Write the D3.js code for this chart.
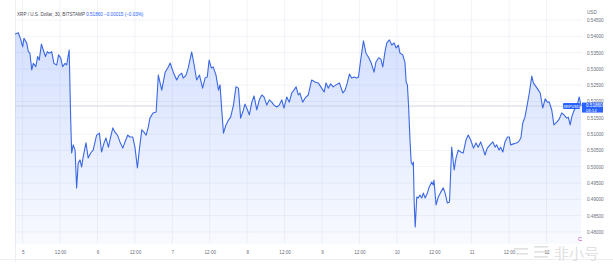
<!DOCTYPE html>
<html>
<head>
<meta charset="utf-8">
<script src="https://cdn.jsdelivr.net/npm/d3@7"></script>
<style>
  html, body { margin: 0; padding: 0; background: #fff; }
  svg { display: block; font-family: "Liberation Sans", Arial, sans-serif; }
</style>
</head>
<body>
<svg id="chart" width="613" height="272"></svg>
<script>
// hours after day 5 00:00, and the close price at that time (30 min XRP/USD)
var hours = [
    -2.5, -1.4, -0.6, 0, 0.4, 1.3, 1.8, 2.3, 2.9, 3.4, 4.2, 4.8, 5.3, 6.0, 6.6, 7.3, 7.9, 8.5, 9.3, 10.0,
    10.9, 11.5, 12.2, 12.8, 13.6, 14.1, 14.9, 15.4, 15.7, 16.2, 16.8, 17.3, 17.8, 18.4, 18.9, 19.4, 20.3, 21.0, 21.8, 22.6,
    23.7, 24.6, 25.3, 26.1, 26.7, 27.5, 28.0, 28.9, 29.6, 30.4, 31.2, 32.1, 32.8, 33.7, 34.4, 35.3, 36.0, 36.8, 37.4, 38.2,
    38.9, 39.6, 40.3, 40.8, 41.8, 42.8, 43.5, 44.6, 45.7, 46.7, 47.3, 48.3, 49.4, 50.2, 51.0, 51.5, 52.4, 53.1, 54.2, 55.0,
    55.8, 56.7, 57.7, 58.5, 59.2, 59.8, 60.5, 61.1, 62.0, 62.8, 63.3, 63.8, 64.4, 65.2, 66.0, 66.7, 67.6, 68.4, 69.2, 69.9,
    70.8, 71.3, 72.1, 72.7, 73.5, 74.2, 75.1, 75.9, 76.7, 77.4, 78.3, 79.1, 79.9, 80.6, 81.5, 82.3, 83.1, 83.8, 84.7, 85.5,
    86.3, 87.0, 87.7, 88.4, 88.9, 89.8, 90.6, 91.6, 92.7, 93.8, 94.8, 95.9, 96.7, 97.3, 98.0, 98.8, 99.6, 100.5, 101.6, 102.7,
    103.4, 104.1, 104.8, 105.5, 106.3, 107.1, 107.7, 108.4, 109.3, 110.1, 111.0, 111.8, 112.7, 113.3, 114.2, 114.9, 115.5, 116.2, 116.8, 117.6,
    118.4, 119.1, 119.8, 120.5, 121.0, 121.9, 122.6, 123.0, 123.4, 123.8, 124.2, 124.6, 125.1, 125.3, 125.6, 125.9, 126.4, 126.9, 127.4, 128.0,
    128.5, 129.1, 129.8, 130.4, 131.2, 131.7, 131.9, 132.6, 133.3, 134.1, 134.9, 135.5, 136.2, 136.9, 137.6, 138.4, 139.0, 139.7, 140.5, 141.3,
    142.2, 142.9, 143.7, 144.6, 145.4, 146.1, 146.9, 147.6, 148.3, 149.0, 149.9, 150.8, 151.5, 152.0, 152.8, 153.3, 154.0, 154.7, 155.5, 156.1,
    156.5, 157.4, 158.3, 159.0, 159.8, 160.4, 161.1, 161.7, 162.5, 163.3, 163.8, 164.7, 165.4, 166.0, 166.8, 167.6, 168.3, 168.9, 169.7, 170.4,
    171.3, 172.1, 172.9, 173.6, 174.5, 175.0, 175.6, 176.1, 176.9, 177.7, 178.5, 179.1
];
var prices = [
    0.5407, 0.5411, 0.5389, 0.5368, 0.5394, 0.5379, 0.5353, 0.5349, 0.5297, 0.5317, 0.5307, 0.5338, 0.5327, 0.5376, 0.5358, 0.5338, 0.5353, 0.5348, 0.5353, 0.5317,
    0.5312, 0.5343, 0.5333, 0.5307, 0.5317, 0.5312, 0.5358, 0.5143, 0.5042, 0.5067, 0.5051, 0.4935, 0.5011, 0.5021, 0.4999, 0.5030, 0.5073, 0.5027, 0.5042, 0.5051,
    0.5097, 0.5103, 0.5045, 0.5073, 0.5088, 0.5060, 0.5082, 0.5119, 0.5106, 0.5097, 0.5076, 0.5057, 0.5076, 0.5097, 0.5091, 0.5091, 0.5060, 0.4996, 0.5051, 0.5113,
    0.5106, 0.5097, 0.5122, 0.5149, 0.5165, 0.5168, 0.5281, 0.5235, 0.5290, 0.5306, 0.5318, 0.5290, 0.5266, 0.5281, 0.5287, 0.5272, 0.5281, 0.5303, 0.5352, 0.5312,
    0.5266, 0.5281, 0.5241, 0.5272, 0.5275, 0.5327, 0.5303, 0.5306, 0.5281, 0.5235, 0.5251, 0.5180, 0.5103, 0.5128, 0.5143, 0.5152, 0.5189, 0.5245, 0.5241, 0.5149,
    0.5174, 0.5192, 0.5174, 0.5159, 0.5198, 0.5217, 0.5174, 0.5205, 0.5220, 0.5214, 0.5189, 0.5205, 0.5198, 0.5189, 0.5183, 0.5189, 0.5205, 0.5180, 0.5214, 0.5198,
    0.5226, 0.5235, 0.5245, 0.5220, 0.5226, 0.5198, 0.5211, 0.5220, 0.5266, 0.5260, 0.5257, 0.5241, 0.5229, 0.5257, 0.5241, 0.5254, 0.5245, 0.5251, 0.5257, 0.5226,
    0.5235, 0.5257, 0.5284, 0.5272, 0.5275, 0.5272, 0.5275, 0.5327, 0.5386, 0.5349, 0.5334, 0.5318, 0.5290, 0.5321, 0.5334, 0.5330, 0.5306, 0.5352, 0.5380, 0.5389,
    0.5373, 0.5380, 0.5364, 0.5373, 0.5349, 0.5343, 0.5321, 0.5260, 0.5251, 0.5180, 0.5088, 0.5014, 0.5005, 0.5014, 0.4883, 0.4815, 0.4907, 0.4904, 0.4913, 0.4904,
    0.4919, 0.4904, 0.4919, 0.4938, 0.4953, 0.4944, 0.4959, 0.4883, 0.4907, 0.4922, 0.4935, 0.4919, 0.4889, 0.4892, 0.5060, 0.4990, 0.5027, 0.5051, 0.5045, 0.5042,
    0.5082, 0.5097, 0.5082, 0.5057, 0.5073, 0.5060, 0.5076, 0.5057, 0.5036, 0.5057, 0.5067, 0.5076, 0.5060, 0.5067, 0.5051, 0.5060, 0.5045, 0.5076, 0.5091, 0.5091,
    0.5067, 0.5070, 0.5073, 0.5076, 0.5088, 0.5134, 0.5152, 0.5183, 0.5226, 0.5278, 0.5257, 0.5245, 0.5235, 0.5226, 0.5180, 0.5208, 0.5198, 0.5198, 0.5174, 0.5128,
    0.5137, 0.5146, 0.5165, 0.5159, 0.5149, 0.5152, 0.5128, 0.5152, 0.5174, 0.5183, 0.5214, 0.5186
];
var priceTicks = [0.545, 0.540, 0.535, 0.530, 0.525, 0.520, 0.515, 0.510, 0.505, 0.500, 0.495, 0.490, 0.485, 0.480];
var titleText = "XRP / U.S. Dollar, 30, BITSTAMP";
var quoteText = "0.51860  \u22120.00015 (\u22120.03%)";
var lastPriceText = "0.51860";
var countdownText = "03:14";
var symbolText = "XRPUSD";

// note: "top" is taken by window.top, so the pane edges get their own names
var W = 613, H = 272,
    paneLeft = 15, paneRight = 582, paneTop = 0, paneBottom = 244,
    lineColor = "#3b68e2", textColor = "#6a6d78";

var base = new Date(2023, 5, 5, 0, 0, 0);
var toDate = function(h) { return new Date(base.getTime() + h * 3600e3); };
var data = hours.map(function(h, i) { return {date: toDate(h), price: prices[i]}; });

var x = d3.scaleTime()
    .domain([toDate(-2.47), toDate(179.4)])
    .range([paneLeft, paneRight]);
var y = d3.scaleLinear()
    .domain([0.48, 0.545])
    .range([231.9, 20]);

var svg = d3.select("#chart");
var defs = svg.append("defs");

var grad = defs.append("linearGradient")
    .attr("id", "fillGrad")
    .attr("gradientUnits", "userSpaceOnUse")
    .attr("x1", 0).attr("x2", 0)
    .attr("y1", y(d3.max(prices))).attr("y2", paneBottom);
grad.append("stop").attr("offset", "0%").attr("stop-color", "#2962ff").attr("stop-opacity", 0.2);
grad.append("stop").attr("offset", "100%").attr("stop-color", "#2962ff").attr("stop-opacity", 0.03);

defs.append("clipPath").attr("id", "paneClip")
    .append("rect")
        .attr("x", paneLeft).attr("y", paneTop)
        .attr("width", paneRight - paneLeft).attr("height", paneBottom - paneTop);

var timeTicks = d3.timeHour.every(12).range(x.domain()[0], x.domain()[1]);

// grid
svg.append("g").selectAll("line").data(timeTicks).enter()
    .append("line")
        .attr("x1", function(d) { return x(d); })
        .attr("x2", function(d) { return x(d); })
        .attr("y1", paneTop).attr("y2", paneBottom)
        .attr("stroke", "#f1f3f8").attr("stroke-width", 1);
svg.append("g").selectAll("line").data(priceTicks).enter()
    .append("line")
        .attr("x1", paneLeft).attr("x2", paneRight)
        .attr("y1", function(d) { return y(d); })
        .attr("y2", function(d) { return y(d); })
        .attr("stroke", "#f1f3f8").attr("stroke-width", 1);

// pane left edge
svg.append("line")
    .attr("x1", paneLeft + 0.5).attr("x2", paneLeft + 0.5).attr("y1", paneTop).attr("y2", 262)
    .attr("stroke", "#eceef3");

var pane = svg.append("g").attr("clip-path", "url(#paneClip)");

var area = d3.area()
    .x(function(d) { return x(d.date); })
    .y0(paneBottom)
    .y1(function(d) { return y(d.price); });
var line = d3.line()
    .x(function(d) { return x(d.date); })
    .y(function(d) { return y(d.price); });

pane.append("path").datum(data)
    .attr("d", area)
    .attr("fill", "url(#fillGrad)");

// last price line
var lastPrice = prices[prices.length - 1];
pane.append("line")
    .attr("x1", paneLeft).attr("x2", paneRight)
    .attr("y1", y(lastPrice)).attr("y2", y(lastPrice))
    .attr("stroke", "#c8ccd6").attr("stroke-width", 0.8);

pane.append("path").datum(data)
    .attr("d", line)
    .attr("fill", "none")
    .attr("stroke", lineColor)
    .attr("stroke-width", 1.1)
    .attr("stroke-linejoin", "round");

// price axis
var yAxis = svg.append("g")
    .attr("transform", "translate(" + paneRight + ",0)")
    .call(d3.axisRight(y).tickValues(priceTicks).tickSize(0).tickPadding(5)
        .tickFormat(d3.format(".5f")));
yAxis.select(".domain").remove();
yAxis.selectAll("text").attr("fill", textColor).attr("font-size", "4.6px");

svg.append("text")
    .attr("x", 587).attr("y", 14)
    .attr("fill", textColor).attr("font-size", "4.6px")
    .text("USD");

// time axis
var xAxis = svg.append("g")
    .attr("transform", "translate(0," + paneBottom + ")")
    .call(d3.axisBottom(x).tickValues(timeTicks).tickSize(0).tickPadding(7)
        .tickFormat(function(d) {
            return d.getHours() === 0 ? d3.timeFormat("%-d")(d) : d3.timeFormat("%H:%M")(d);
        }));
xAxis.select(".domain").remove();
xAxis.selectAll("text").attr("fill", textColor).attr("font-size", "4.6px");

svg.append("line")
    .attr("x1", 0).attr("x2", W).attr("y1", 259.5).attr("y2", 259.5)
    .attr("stroke", "#eceef3");

// header
var header = svg.append("text")
    .attr("x", 17).attr("y", 15.5)
    .attr("font-size", "4.6px");
header.append("tspan").attr("fill", "#4a4d57").text(titleText + "  ");
header.append("tspan").attr("fill", "#2962ff").text(quoteText);

// last price labels
var ly = y(lastPrice);
svg.append("rect")
    .attr("x", 563).attr("y", ly - 3)
    .attr("width", 17).attr("height", 6)
    .attr("rx", 1).attr("fill", "#2962ff");
svg.append("text")
    .attr("x", 571.5).attr("y", ly + 1.5)
    .attr("text-anchor", "middle")
    .attr("fill", "#fff").attr("font-size", "4px")
    .text(symbolText);
svg.append("rect")
    .attr("x", 582).attr("y", ly - 3.5)
    .attr("width", 21).attr("height", 10)
    .attr("fill", "#2962ff");
svg.append("text")
    .attr("x", 586).attr("y", ly + 1.2)
    .attr("fill", "#fff").attr("font-size", "4.6px")
    .text(lastPriceText);
svg.append("text")
    .attr("x", 586).attr("y", ly + 5.6)
    .attr("fill", "#fff").attr("font-size", "4.2px")
    .text(countdownText);

// small mark at the corner
svg.append("text")
    .attr("x", 578).attr("y", 241)
    .attr("fill", "#c04fc8").attr("font-size", "6px")
    .text("C");

// watermark
var wm = svg.append("g").attr("opacity", 0.5);
[[514, 248, 14], [516, 253, 12], [534, 246, 14], [534, 251, 14], [534, 256, 14]].forEach(function(b) {
    wm.append("rect").attr("x", b[0]).attr("y", b[1]).attr("width", b[2]).attr("height", 1.6).attr("fill", "#c4c4c4");
});
wm.append("text")
    .attr("x", 554).attr("y", 259)
    .attr("fill", "#c4c4c4")
    .attr("font-family", "'Noto Sans CJK SC', sans-serif")
    .attr("font-size", "15px")
    .text("非小号");
</script>
</body>
</html>
